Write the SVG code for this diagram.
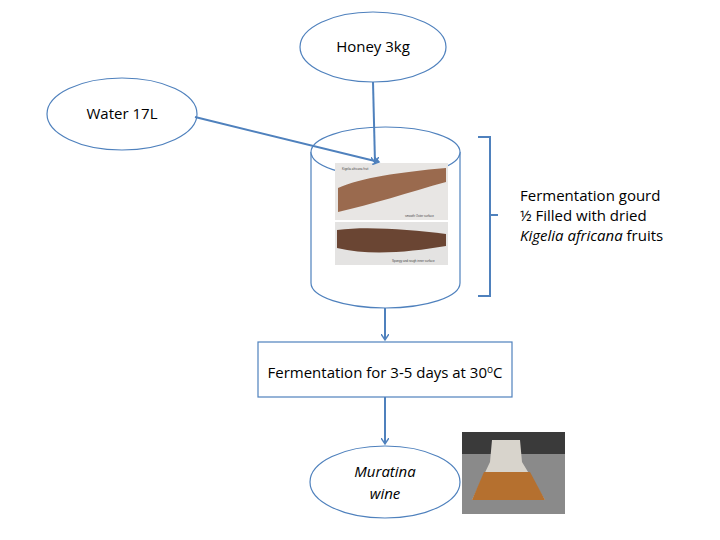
<svg xmlns="http://www.w3.org/2000/svg" width="720" height="540" viewBox="0 0 720 540">
<style>
.n{fill:#fff;stroke:#4f81bd;stroke-width:1.2}
.t{font-family:"Open Sans","Liberation Sans",sans-serif;font-size:15px;fill:#000}
.c{stroke:#4f81bd;stroke-width:2;fill:none}
.s{font-family:"Liberation Sans",sans-serif;font-size:3px;fill:#444}
</style>
<defs><marker id="a" markerWidth="8" markerHeight="8" refX="6" refY="4" orient="auto" markerUnits="userSpaceOnUse"><path d="M0,0 L6,4 L0,8" fill="none" stroke="#4f81bd" stroke-width="1.5"/></marker></defs>
<rect width="720" height="540" fill="#fff"/>
<g id="honey"><ellipse class="n" cx="373" cy="47" rx="73" ry="35"/><text class="t" x="373" y="52" text-anchor="middle">Honey 3kg</text></g>
<g id="water"><ellipse class="n" cx="122" cy="114" rx="75" ry="36"/><text class="t" x="122" y="119" text-anchor="middle">Water 17L</text></g>
<g id="gourd">
<path class="n" d="M311,152 L311,283 A74.5,25 0 0 0 460,283 L460,152"/>
<ellipse class="n" cx="385.5" cy="152" rx="74.5" ry="25"/>
<rect x="335" y="163" width="113" height="57" fill="#e8e6e4"/>
<path d="M338,188 C360,178 400,172 446,168 L446,182 C410,192 370,205 338,212 Z" fill="#9a6a4e"/>
<text class="s" x="342" y="170">Kigelia africana fruit</text>
<text class="s" x="405" y="217">smooth Outer surface</text>
<rect x="335" y="222" width="113" height="43" fill="#e4e3e2"/>
<path d="M337,230 C370,226 410,230 446,234 L446,246 C410,252 370,256 337,248 Z" fill="#6a4533"/>
<text class="s" x="392" y="262">Spongy and rough inner surface</text>
</g>
<g id="bracket"><path class="c" d="M478,137 L490,137 L490,296 L478,296 M490,215 L498,215"/>
<text class="t" x="520" y="201">Fermentation gourd</text>
<text class="t" x="520" y="221">½ Filled with dried</text>
<text class="t" x="520" y="241"><tspan font-style="italic">Kigelia africana</tspan> fruits</text></g>
<g id="ferm"><rect class="n" x="258" y="342" width="254" height="55"/><text class="t" x="385" y="378" text-anchor="middle">Fermentation for 3-5 days at 30<tspan font-size="10" dy="-5">o</tspan><tspan dy="5">C</tspan></text></g>
<g id="wine"><ellipse class="n" cx="385" cy="482" rx="75" ry="36"/><text class="t" x="385" y="477" text-anchor="middle" font-style="italic">Muratina</text><text class="t" x="385" y="499" text-anchor="middle" font-style="italic">wine</text></g>
<g id="flask"><rect x="462" y="432" width="103" height="82" fill="#8a8a8a"/><rect x="462" y="432" width="103" height="22" fill="#3a3a3a"/><path d="M492,440 L520,440 L522,462 L545,500 L472,500 L490,462 Z" fill="#d8d4cc"/><path d="M484,472 L530,472 L545,500 L472,500 Z" fill="#b5702f"/></g>
<g id="connectors">
<line class="c" x1="373" y1="82" x2="375" y2="163" marker-end="url(#a)"/>
<line class="c" x1="195" y1="117" x2="379" y2="162" marker-end="url(#a)"/>
<line class="c" x1="385" y1="308" x2="385" y2="340" marker-end="url(#a)"/>
<line class="c" x1="385" y1="397" x2="385" y2="444" marker-end="url(#a)"/>
</g>
</svg>
